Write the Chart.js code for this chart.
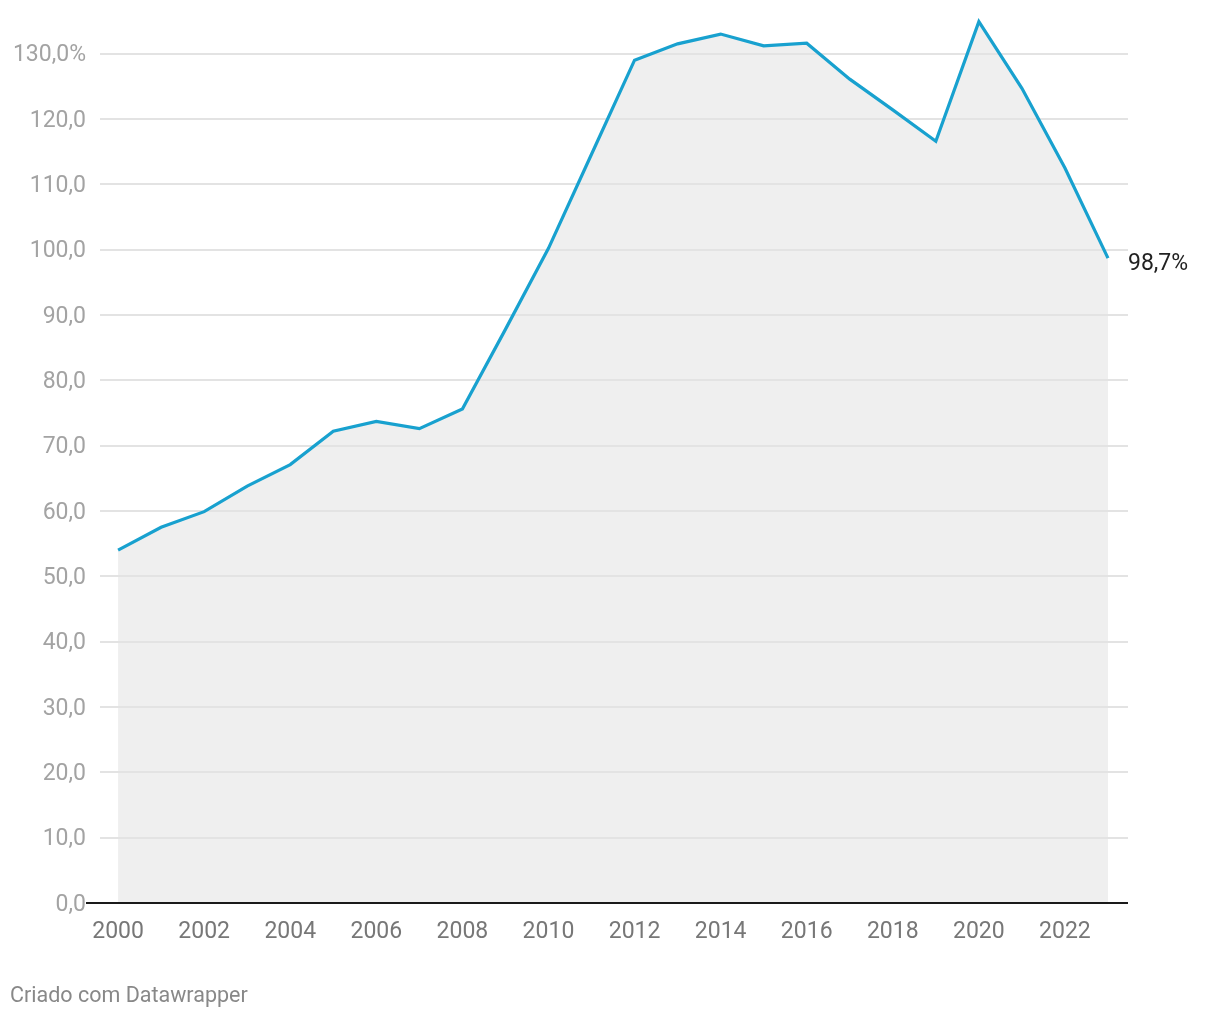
<!DOCTYPE html>
<html>
<head>
<meta charset="utf-8">
<script src="https://cdn.jsdelivr.net/npm/chart.js@4/dist/chart.umd.min.js"></script>
<style>
  html, body { margin: 0; padding: 0; background: #fff; }
  #wrap { position: relative; width: 1220px; height: 1020px; }
  #footer { position: absolute; left: 10px; top: 982px; font-family: Roboto, sans-serif; font-size: 21.5px; line-height: normal; color: #888; white-space: nowrap; }
</style>
</head>
<body>
<div id="wrap">
  <canvas id="c" width="1220" height="1020"></canvas>
  <div id="footer">Criado com Datawrapper</div>
</div>
<script>
const years = [2000, 2001, 2002, 2003, 2004, 2005, 2006, 2007, 2008, 2009, 2010, 2011,
               2012, 2013, 2014, 2015, 2016, 2017, 2018, 2019, 2020, 2021, 2022, 2023];
const debtPct = [54.0, 57.5, 59.9, 63.8, 67.1, 72.2, 73.7, 72.6, 75.6, 87.8, 100.2, 114.6,
                 129.0, 131.5, 133.0, 131.2, 131.6, 126.1, 121.4, 116.6, 134.9, 124.7, 112.5, 98.7];
const xTickYears = [2000, 2002, 2004, 2006, 2008, 2010, 2012, 2014, 2016, 2018, 2020, 2022];
const yTickValues = [0, 10, 20, 30, 40, 50, 60, 70, 80, 90, 100, 110, 120, 130];
const lastLabel = "98,7%";

const points = years.map((y, i) => ({ x: y, y: debtPct[i] }));

const fmt = v => v.toFixed(1).replace('.', ',');

const extras = {
  id: 'extras',
  afterDatasetsDraw(chart) {
    const ctx = chart.ctx;
    const xs = chart.scales.x, ys = chart.scales.y;
    const ca = chart.chartArea;
    // zero baseline
    ctx.save();
    ctx.strokeStyle = '#1a1a1a';
    ctx.lineWidth = 2;
    const y0 = Math.round(ys.getPixelForValue(0));
    ctx.beginPath();
    ctx.moveTo(86, y0);
    ctx.lineTo(ca.right, y0);
    ctx.stroke();
    // last value label
    const li = years.length - 1;
    const lx = xs.getPixelForValue(years[li]);
    const ly = ys.getPixelForValue(debtPct[li]);
    ctx.fillStyle = '#222';
    ctx.font = '23px Roboto, sans-serif';
    ctx.textAlign = 'left';
    ctx.textBaseline = 'alphabetic';
    ctx.fillText(lastLabel, lx + 20, ly + 12);
    ctx.restore();
  }
};

new Chart(document.getElementById('c'), {
  type: 'line',
  data: {
    datasets: [{
      data: points,
      borderColor: '#18a1cf',
      borderWidth: 3.2,
      backgroundColor: '#efefef',
      fill: 'origin',
      pointRadius: 0,
      tension: 0,
      clip: false
    }]
  },
  options: {
    responsive: false,
    animation: false,
    events: [],
    layout: { padding: { top: 21, right: 92, left: 0, bottom: 0 } },
    plugins: {
      legend: { display: false },
      tooltip: { enabled: false },
      filler: { drawTime: 'beforeDraw' }
    },
    scales: {
      x: {
        type: 'linear',
        min: 1999.58,
        max: 2023.465,
        afterBuildTicks: s => { s.ticks = xTickYears.map(v => ({ value: v })); },
        afterFit: s => { s.height = 117; s.paddingLeft = 0; s.paddingRight = 0; },
        grid: { display: false, drawTicks: false },
        border: { display: false },
        ticks: {
          padding: 15,
          maxRotation: 0,
          autoSkip: false,
          color: '#777',
          font: { family: 'Roboto', size: 23 },
          callback: v => String(v)
        }
      },
      y: {
        type: 'linear',
        min: 0,
        max: 135,
        afterBuildTicks: s => { s.ticks = yTickValues.map(v => ({ value: v })); },
        afterFit: s => { s.width = 100; s.paddingTop = 0; s.paddingBottom = 0; },
        grid: {
          drawTicks: false,
          color: ctx => (ctx.tick && ctx.tick.value === 0) ? 'rgba(0,0,0,0)' : '#e3e3e3',
          lineWidth: 2
        },
        border: { display: false },
        ticks: {
          padding: 14,
          labelOffset: 2,
          color: '#a3a3a3',
          font: { family: 'Roboto', size: 23 },
          callback: v => v === 130 ? fmt(v) + '%' : fmt(v)
        }
      }
    }
  },
  plugins: [extras]
});
</script>
</body>
</html>
